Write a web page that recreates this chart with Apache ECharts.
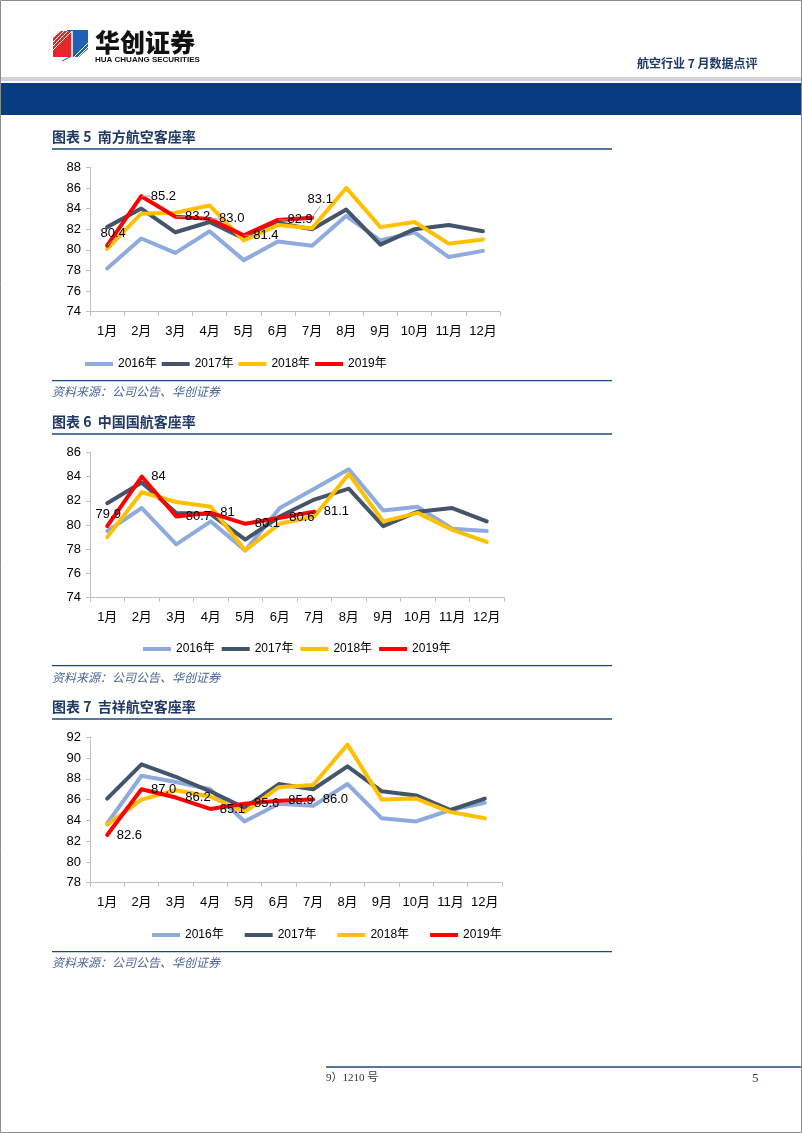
<!DOCTYPE html>
<html><head><meta charset="utf-8">
<script src="https://cdn.jsdelivr.net/npm/echarts@6/dist/echarts.min.js"></script>
<style>html,body{margin:0;padding:0;background:#fff}#c{width:802px;height:1133px}</style>
</head><body><div id="c"></div>
<script>
const months = ['1月','2月','3月','4月','5月','6月','7月','8月','9月','10月','11月','12月'];
const years = ['2016年','2017年','2018年','2019年'];

// 图表5 南方航空客座率
const csn2016 = [78.2, 81.1, 79.7, 81.8, 79.0, 80.8, 80.4, 83.3, 80.9, 81.7, 79.3, 79.9];
const csn2017 = [82.2, 84.0, 81.7, 82.7, 81.1, 82.6, 82.0, 83.9, 80.5, 82.0, 82.4, 81.8];
const csn2018 = [80.1, 83.5, 83.6, 84.3, 80.9, 82.4, 82.1, 86.0, 82.2, 82.7, 80.6, 81.0];
const csn2019 = [80.4, 85.2, 83.2, 83.0, 81.4, 82.9, 83.1];
const csnTicks = {min: 74, max: 88, interval: 2};

// 图表6 中国国航客座率
const ca2016 = [79.5, 81.4, 78.4, 80.3, 77.9, 81.4, 83.0, 84.6, 81.2, 81.5, 79.7, 79.5];
const ca2017 = [81.8, 83.5, 81.0, 80.9, 78.8, 80.7, 82.1, 83.0, 79.9, 81.1, 81.4, 80.3];
const ca2018 = [79.0, 82.7, 81.9, 81.5, 77.9, 80.1, 80.7, 84.2, 80.3, 81.0, 79.6, 78.6];
const ca2019 = [79.9, 84, 80.7, 81, 80.1, 80.6, 81.1];
const caTicks = {min: 74, max: 86, interval: 2};

// 图表7 吉祥航空客座率
const jx2016 = [83.7, 88.3, 87.7, 87.0, 83.9, 85.6, 85.4, 87.5, 84.2, 83.9, 85.0, 85.7];
const jx2017 = [86.1, 89.4, 88.2, 86.8, 85.2, 87.5, 87.0, 89.2, 86.8, 86.4, 85.0, 86.1];
const jx2018 = [83.6, 86.0, 86.9, 86.3, 84.8, 87.2, 87.4, 91.3, 86.0, 86.1, 84.8, 84.2];
const jx2019 = [82.6, 87.0, 86.2, 85.1, 85.6, 85.9, 86.0];
const jxTicks = {min: 78, max: 92, interval: 2};

const colors = ['#8FAADC', '#44546A', '#FFC000', '#FF0000'];
const FONT = '"Liberation Sans", Arial, "Noto Sans CJK SC", sans-serif';
const CJK = '"Noto Sans CJK SC", sans-serif';
const NAVY = '#1F3864';

const charts = [
  {title: '图表 5  南方航空客座率', data: [csn2016, csn2017, csn2018, csn2019], ticks: csnTicks, fixed: true,
   grid: {left: 90, top: 167.3, width: 410, height: 144.4}, titleY: 139, ruleY: 149, legendLeft: 80, legendTop: 353, legendGap: 5,
   srcRuleY: 380.7, srcY: 393, topLabels: [0], topPad: 12, leader: 6},
  {title: '图表 6  中国国航客座率', data: [ca2016, ca2017, ca2018, ca2019], ticks: caTicks, fixed: false,
   grid: {left: 90, top: 452.3, width: 414, height: 145.4}, titleY: 424, ruleY: 434, legendLeft: 138, legendTop: 638, legendGap: 7,
   srcRuleY: 665.7, srcY: 679, topLabels: [0], topPad: 2, leader: -1},
  {title: '图表 7  吉祥航空客座率', data: [jx2016, jx2017, jx2018, jx2019], ticks: jxTicks, fixed: true,
   grid: {left: 90, top: 737.3, width: 412, height: 145.4}, titleY: 709, ruleY: 719, legendLeft: 147, legendTop: 924, legendGap: 21,
   srcRuleY: 951.7, srcY: 964, topLabels: [], topPad: 0, leader: -1}
];

const grid = [], xAxis = [], yAxis = [], series = [], legend = [], graphic = [];
const axisLineStyle = {color: '#BFBFBF', width: 1};

charts.forEach((c, ci) => {
  grid.push(c.grid);
  xAxis.push({type: 'category', gridIndex: ci, data: months, boundaryGap: true,
    axisLine: {lineStyle: axisLineStyle}, axisTick: {show: true, length: 4, lineStyle: axisLineStyle},
    axisLabel: {color: '#000', fontSize: 13, fontFamily: FONT, margin: 13, interval: 0},
    splitLine: {show: false}});
  yAxis.push({type: 'value', gridIndex: ci, min: c.ticks.min, max: c.ticks.max, interval: c.ticks.interval,
    axisLine: {show: true, lineStyle: axisLineStyle}, axisTick: {show: true, length: 4, lineStyle: axisLineStyle},
    axisLabel: {color: '#000', fontSize: 13, fontFamily: FONT, margin: 9},
    splitLine: {show: false}});
  c.data.forEach((arr, si) => {
    const isLast = si === 3;
    const s = {
      name: years[si], type: 'line', xAxisIndex: ci, yAxisIndex: ci,
      animation: false,
      lineStyle: {color: colors[si], width: 4, join: 'round', cap: 'round'},
      itemStyle: {color: colors[si]},
      z: 2 + si,
      data: isLast ? arr.map((v, i) => c.topLabels.includes(i)
        ? {value: v, label: {position: 'top', distance: 5, padding: [0, 0, 0, c.topPad]}} : v) : arr
    };
    if (isLast) {
      s.showSymbol = true;
      s.symbol = 'circle';
      s.symbolSize = 1;
      const fixed = c.fixed;
      s.label = {show: true, position: 'right', distance: 9, color: '#000', fontSize: 13, fontFamily: FONT,
        formatter: p => fixed ? Number(p.value).toFixed(1) : String(p.value)};
      if (c.leader >= 0) {
        s.labelLine = {show: true, lineStyle: {color: '#A0A0A0', width: 1}};
        const L = c.leader;
        s.labelLayout = p => p.dataIndex === L ? {dx: -14, dy: -18} : {};
      }
    } else {
      s.showSymbol = false;
      s.symbol = 'none';
    }
    series.push(s);
  });
  legend.push({data: years, left: c.legendLeft, top: c.legendTop, orient: 'horizontal',
    icon: 'rect', itemWidth: 28, itemHeight: 4, itemGap: c.legendGap,
    textStyle: {color: '#000', fontSize: 12, fontFamily: FONT}, selectedMode: false});

  graphic.push({type: 'text', left: 52, top: c.titleY - 9, style: {text: c.title, fill: NAVY,
    font: 'bold 14px ' + CJK}});
  graphic.push({type: 'line', shape: {x1: 52, y1: c.ruleY, x2: 612, y2: c.ruleY}, style: {stroke: '#1F497D', lineWidth: 1.5}});
  graphic.push({type: 'line', shape: {x1: 52, y1: c.srcRuleY, x2: 612, y2: c.srcRuleY}, style: {stroke: '#1F497D', lineWidth: 1.2}});
  graphic.push({type: 'text', left: 52, top: c.srcY - 8, style: {text: '资料来源：公司公告、华创证券', fill: '#4A6595',
    font: 'italic 12px ' + CJK}});
});

graphic.push(
  {type: 'rect', shape: {x: 0.5, y: 0.5, width: 801, height: 1132}, style: {fill: 'none', stroke: '#8C8C8C', lineWidth: 1}, z: 100},
  {type: 'polygon', shape: {points: [[67,30],[88,30],[88,49],[79,57],[67,57]]}, style: {fill: '#1F5FB4'}},
  {type: 'polygon', shape: {points: [[53,38],[61,31],[72,31],[72,57],[53,57]]}, style: {fill: '#E5262A'}},
  {type: 'line', shape: {x1: 53, y1: 42, x2: 64, y2: 31}, style: {stroke: '#fff', lineWidth: 1}},
  {type: 'line', shape: {x1: 53, y1: 46, x2: 68, y2: 31}, style: {stroke: '#fff', lineWidth: 1}},
  {type: 'line', shape: {x1: 53, y1: 50, x2: 72, y2: 31}, style: {stroke: '#fff', lineWidth: 1}},
  {type: 'line', shape: {x1: 72, y1: 31, x2: 72, y2: 57}, style: {stroke: '#fff', lineWidth: 1.5}},
  {type: 'line', shape: {x1: 74, y1: 57, x2: 88, y2: 43}, style: {stroke: '#fff', lineWidth: 1}},
  {type: 'line', shape: {x1: 78, y1: 57, x2: 88, y2: 47}, style: {stroke: '#fff', lineWidth: 1}},
  {type: 'line', shape: {x1: 62, y1: 61, x2: 70, y2: 57}, style: {stroke: '#1F5FB4', lineWidth: 1}},
  {type: 'text', left: 95, top: 30, style: {text: '华创证券', fill: '#111', font: '900 25px ' + CJK}},
  {type: 'text', left: 95, top: 56, style: {text: 'HUA CHUANG SECURITIES', fill: '#111', font: 'bold 8px "Liberation Sans", Arial, sans-serif'}},
  {type: 'text', left: 637, top: 57, style: {text: '航空行业 7 月数据点评', fill: NAVY, font: 'bold 12px ' + CJK}},
  {type: 'rect', shape: {x: 0, y: 77, width: 802, height: 4}, style: {fill: '#D3D3D3'}},
  {type: 'rect', shape: {x: 0, y: 83, width: 802, height: 32}, style: {fill: '#083C80'}},
  {type: 'line', shape: {x1: 326, y1: 1067, x2: 802, y2: 1067}, style: {stroke: '#1F497D', lineWidth: 1.5}},
  {type: 'text', left: 326, top: 1073, style: {text: '9）1210 号', fill: '#333', font: '11px "Liberation Serif", "Noto Sans CJK SC", serif'}},
  {type: 'text', left: 752, top: 1072, style: {text: '5', fill: '#1F3864', font: '13px "Liberation Serif", serif'}}
);

const chart = echarts.init(document.getElementById('c'), null, {renderer: 'canvas'});
chart.setOption({animation: false, backgroundColor: '#fff', grid, xAxis, yAxis, series, legend, graphic});
</script></body></html>
